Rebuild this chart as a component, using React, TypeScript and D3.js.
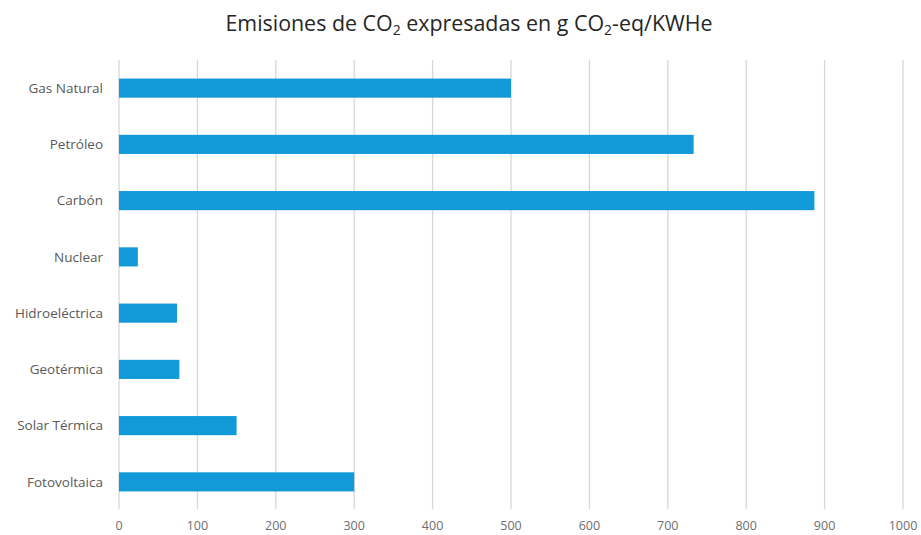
import React from "react";
import * as d3 from "d3";

const categories = ["Gas Natural", "Petróleo", "Carbón", "Nuclear", "Hidroeléctrica", "Geotérmica", "Solar Térmica", "Fotovoltaica"];
const values = [500, 733, 887, 24, 74, 77, 150, 300];
const xTicks = [0, 100, 200, 300, 400, 500, 600, 700, 800, 900, 1000];

const W = 921;
const H = 535;
const FONT = "'Open Sans', 'Noto Sans', sans-serif";

export default function App() {
  const x = d3.scaleLinear().domain([0, 1000]).range([119, 903]);
  const y = d3.scaleBand<string>().domain(categories).range([60, 510]).paddingInner(0.66).paddingOuter(0.33);
  const [gy0, gy1] = [60, 509];
  return (
    <svg width={W} height={H} style={{ position: "absolute", left: 0, top: 0, background: "#fff" }}>
      <text x={469} y={31} textAnchor="middle" fontFamily={FONT} fontSize={21.4} fill="#262626">
        Emisiones de CO<tspan fontSize={14} dy={4}>2</tspan>
        <tspan dy={-4}> expresadas en g CO</tspan>
        <tspan fontSize={14} dy={4}>2</tspan>
        <tspan dy={-4}>-eq/KWHe</tspan>
      </text>
      {xTicks.map((t) => (
        <g key={t}>
          <line x1={x(t)} x2={x(t)} y1={gy0} y2={gy1} stroke="#d9d6d6" strokeWidth={1.3} />
          <text x={x(t)} y={530} textAnchor="middle" fontFamily={FONT} fontSize={12.5} fill="#6e6e6e">
            {t}
          </text>
        </g>
      ))}
      {categories.map((c, i) => (
        <g key={c}>
          <rect x={x(0)} y={y(c)!} width={x(values[i]) - x(0)} height={y.bandwidth()} fill="#129ad8" />
          <text x={103} y={y(c)! + y.bandwidth() / 2} dy="0.35em" textAnchor="end" fontFamily={FONT} fontSize={13.5} fill="#595959">
            {c}
          </text>
        </g>
      ))}
    </svg>
  );
}
